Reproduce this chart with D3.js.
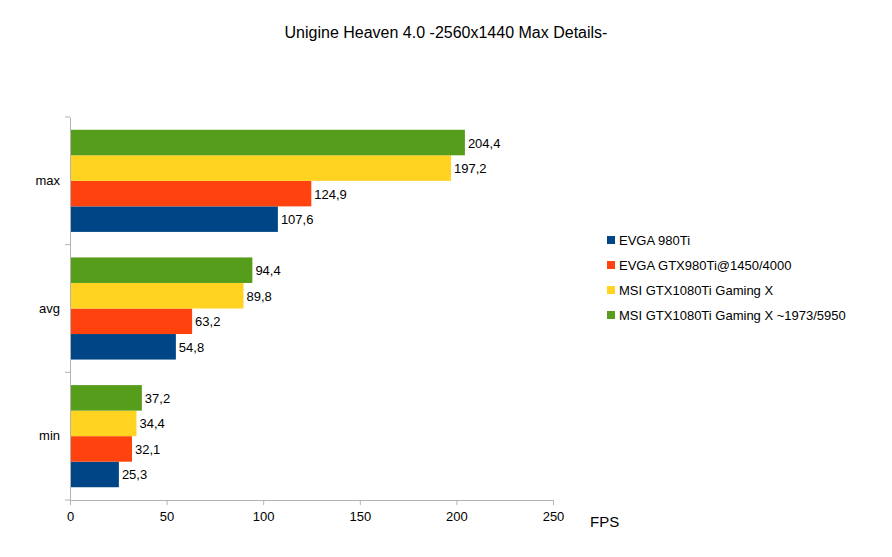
<!DOCTYPE html>
<html><head><meta charset="utf-8">
<script src="https://cdn.jsdelivr.net/npm/d3@7"></script>
<style>body{margin:0;background:#fff}text{font-family:"Liberation Sans",Arial,sans-serif}</style>
</head><body><svg id="c" width="892" height="557"></svg>
<script>
const categories = ['max', 'avg', 'min']
const series = ['EVGA 980Ti', 'EVGA GTX980Ti@1450/4000', 'MSI GTX1080Ti Gaming X', 'MSI GTX1080Ti Gaming X ~1973/5950']
const colors = ['#004586', '#ff420e', '#ffd320', '#579d1c']
// values per series, in category order max, avg, min
const evga980 = [107.6, 54.8, 25.3]
const evgaOc = [124.9, 63.2, 32.1]
const msi1080 = [197.2, 89.8, 34.4]
const msiOc = [204.4, 94.4, 37.2]
const values = [evga980, evgaOc, msi1080, msiOc]
const ticks = [0, 50, 100, 150, 200, 250]

const svg = d3.select('#c')
const plotL = 70, plotR = 553, plotT = 117, plotB = 500

const x = d3.scaleLinear().domain([0, 250]).range([plotL, plotR])
const y = d3.scaleBand().domain(categories).range([plotT, plotB])
const inner = d3.scaleBand().domain([3, 2, 1, 0]).range([0, y.bandwidth()]).paddingOuter(0.5).paddingInner(0)

svg.append('text').attr('x', 446).attr('y', 38).attr('text-anchor', 'middle')
  .attr('font-size', 16).text('Unigine Heaven 4.0 -2560x1440 Max Details-')

categories.forEach((c, ci) => {
  const g = svg.append('g').attr('transform', `translate(0,${y(c)})`)
  series.forEach((s, si) => {
    const v = values[si][ci]
    g.append('rect').attr('x', x(0)).attr('y', inner(si))
      .attr('width', x(v) - x(0)).attr('height', inner.bandwidth())
      .attr('fill', colors[si])
    g.append('text').attr('x', x(v) + 3).attr('y', inner(si) + inner.bandwidth() / 2 + 5)
      .attr('font-size', 13).text(String(v).replace('.', ','))
  })
})

const xAxis = svg.append('g').attr('transform', `translate(0,${plotB})`)
  .call(d3.axisBottom(x).tickValues(ticks).tickSize(5).tickSizeOuter(0))
xAxis.selectAll('text').attr('font-size', 13).attr('fill', '#000').attr('dy', '1em')
xAxis.select('.domain').attr('stroke', '#b3b3b3')
xAxis.selectAll('line').attr('stroke', '#b3b3b3')

const yAxis = svg.append('g').attr('transform', `translate(${plotL},0)`)
  .call(d3.axisLeft(y).tickSize(0).tickPadding(10))
yAxis.selectAll('text').attr('font-size', 13).attr('fill', '#000')
yAxis.select('.domain').attr('stroke', '#b3b3b3')
;[plotT, ...categories.map(c => y(c) + y.bandwidth())].forEach(p =>
  svg.append('line').attr('x1', plotL - 5).attr('x2', plotL).attr('y1', p).attr('y2', p).attr('stroke', '#b3b3b3'))

svg.append('text').attr('x', 590).attr('y', 527).attr('font-size', 15).text('FPS')

const leg = svg.append('g').attr('transform', 'translate(607,240)')
series.forEach((s, i) => {
  leg.append('rect').attr('x', 0).attr('y', i * 25 - 4).attr('width', 8).attr('height', 8).attr('fill', colors[i])
  leg.append('text').attr('x', 12).attr('y', i * 25 + 5).attr('font-size', 13).text(s)
})
</script></body></html>
